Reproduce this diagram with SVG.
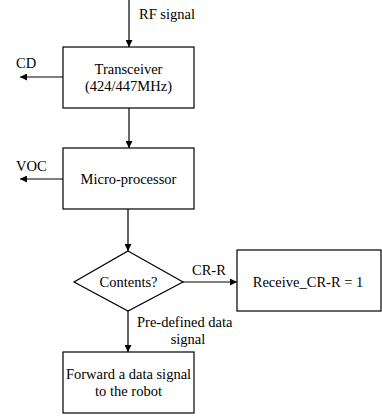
<svg xmlns="http://www.w3.org/2000/svg" width="382" height="416" viewBox="0 0 382 416">
<style>
.box{fill:#fff;stroke:#000;stroke-width:1.2}
.ln{fill:none;stroke:#000;stroke-width:1.2;marker-end:url(#ah)}
text{font-family:"Liberation Serif","Times New Roman",serif;font-size:14.5px;fill:#000}
.c{text-anchor:middle}
</style>
<defs>
<marker id="ah" viewBox="0 0 10 10" refX="10" refY="5" markerWidth="7" markerHeight="7" markerUnits="userSpaceOnUse" orient="auto">
<path d="M0,0 L10,5 L0,10 z" fill="#000"/>
</marker>
</defs>
<rect width="382" height="416" fill="#fff"/>
<g id="connectors">
<line class="ln" x1="129" y1="0" x2="129" y2="47"/>
<line class="ln" x1="63" y1="77" x2="20" y2="77"/>
<line class="ln" x1="129" y1="108" x2="129" y2="148"/>
<line class="ln" x1="63" y1="179" x2="20" y2="179"/>
<line class="ln" x1="128" y1="209" x2="128" y2="251"/>
<line class="ln" x1="183" y1="282" x2="237" y2="282"/>
<line class="ln" x1="128" y1="311" x2="128" y2="352"/>
<text x="139" y="19">RF signal</text>
<text x="16" y="68">CD</text>
<text x="16" y="171">VOC</text>
<text x="192" y="275">CR-R</text>
<text x="137" y="327">Pre-defined data</text>
<text x="188" y="344" class="c">signal</text>
</g>
<g id="transceiver">
<rect class="box" x="63" y="47" width="131" height="61"/>
<text x="128.5" y="74" class="c">Transceiver</text>
<text x="128.5" y="91" class="c">(424/447MHz)</text>
</g>
<g id="microprocessor">
<rect class="box" x="63" y="148" width="131" height="61"/>
<text x="128.5" y="184" class="c">Micro-processor</text>
</g>
<g id="contents">
<polygon class="box" points="128,251 183,282 128,311 74,282"/>
<text x="128.5" y="287" class="c">Contents?</text>
</g>
<g id="receive">
<rect class="box" x="237" y="250" width="144" height="61"/>
<text x="308" y="287" class="c">Receive_CR-R = 1</text>
</g>
<g id="forward">
<rect class="box" x="63" y="352" width="131" height="61"/>
<text x="128.5" y="379" class="c">Forward a data signal</text>
<text x="128.5" y="396" class="c">to the robot</text>
</g>
</svg>
